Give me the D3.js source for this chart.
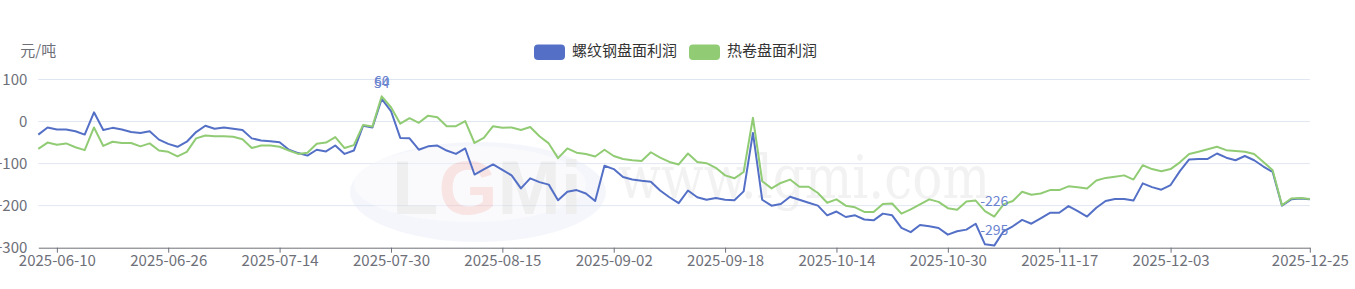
<!DOCTYPE html>
<html>
<head>
<meta charset="utf-8">
<script src="https://cdn.jsdelivr.net/npm/d3@7"></script>
<style>
  html, body { margin: 0; padding: 0; background: #fff; }
  svg text { font-family: "Noto Sans CJK SC", "Noto Sans", sans-serif; }
</style>
</head>
<body>
<svg id="chart" width="1355" height="289"></svg>
<script>
// trading days shown on the category axis
const dates = [
  "2025-06-06","2025-06-09","2025-06-10","2025-06-11","2025-06-12","2025-06-13","2025-06-16","2025-06-17","2025-06-18","2025-06-19",
  "2025-06-20","2025-06-23","2025-06-24","2025-06-25","2025-06-26","2025-06-27","2025-06-30","2025-07-01","2025-07-02","2025-07-03",
  "2025-07-04","2025-07-07","2025-07-08","2025-07-09","2025-07-10","2025-07-11","2025-07-14","2025-07-15","2025-07-16","2025-07-17",
  "2025-07-18","2025-07-21","2025-07-22","2025-07-23","2025-07-24","2025-07-25","2025-07-28","2025-07-29","2025-07-30","2025-07-31",
  "2025-08-01","2025-08-04","2025-08-05","2025-08-06","2025-08-07","2025-08-08","2025-08-11","2025-08-12","2025-08-13","2025-08-14",
  "2025-08-15","2025-08-18","2025-08-19","2025-08-20","2025-08-21","2025-08-22","2025-08-25","2025-08-26","2025-08-27","2025-08-28",
  "2025-08-29","2025-09-01","2025-09-02","2025-09-03","2025-09-04","2025-09-05","2025-09-08","2025-09-09","2025-09-10","2025-09-11",
  "2025-09-12","2025-09-15","2025-09-16","2025-09-17","2025-09-18","2025-09-19","2025-09-22","2025-09-23","2025-09-24","2025-09-25",
  "2025-09-26","2025-09-29","2025-09-30","2025-10-09","2025-10-10","2025-10-13","2025-10-14","2025-10-15","2025-10-16","2025-10-17",
  "2025-10-20","2025-10-21","2025-10-22","2025-10-23","2025-10-24","2025-10-27","2025-10-28","2025-10-29","2025-10-30","2025-10-31",
  "2025-11-03","2025-11-04","2025-11-05","2025-11-06","2025-11-07","2025-11-10","2025-11-11","2025-11-12","2025-11-13","2025-11-14",
  "2025-11-17","2025-11-18","2025-11-19","2025-11-20","2025-11-21","2025-11-24","2025-11-25","2025-11-26","2025-11-27","2025-11-28",
  "2025-12-01","2025-12-02","2025-12-03","2025-12-04","2025-12-05","2025-12-08","2025-12-09","2025-12-10","2025-12-11","2025-12-12",
  "2025-12-15","2025-12-16","2025-12-17","2025-12-18","2025-12-19","2025-12-22","2025-12-23","2025-12-25"
];

// 螺纹钢盘面利润
const rebar = [
  -31,-14,-19,-19,-23,-31,22,-20,-15,-19,
  -25,-27,-23,-43,-53,-60,-48,-25,-10,-17,
  -14,-17,-20,-40,-45,-47,-49,-67,-75,-81,
  -67,-71,-57,-77,-69,-10,-14,54,25,-39,
  -40,-67,-59,-57,-69,-77,-64,-126,-114,-102,
  -115,-128,-159,-135,-144,-150,-187,-167,-163,-171,
  -189,-105,-113,-132,-138,-141,-143,-164,-180,-194,
  -164,-180,-186,-182,-186,-187,-166,-27,-186,-200,
  -196,-179,-186,-193,-200,-223,-214,-227,-223,-233,
  -235,-219,-223,-253,-263,-246,-249,-253,-269,-261,
  -257,-243,-292,-295,-261,-249,-234,-243,-230,-217,
  -217,-201,-213,-226,-205,-189,-184,-184,-188,-147,
  -156,-162,-151,-118,-90,-89,-89,-76,-86,-92,
  -82,-92,-107,-120,-200,-185,-183,-185
];

// 热卷盘面利润
const hotCoil = [
  -65,-50,-55,-52,-61,-68,-14,-58,-48,-51,
  -51,-59,-52,-69,-72,-83,-72,-40,-33,-35,
  -35,-36,-42,-63,-57,-57,-60,-69,-77,-74,
  -53,-50,-37,-63,-56,-8,-12,60,34,-5,
  8,-3,14,10,-11,-11,1,-51,-39,-11,
  -15,-14,-20,-13,-35,-52,-87,-64,-74,-77,
  -83,-67,-82,-89,-92,-94,-73,-86,-96,-102,
  -76,-96,-99,-110,-128,-135,-120,9,-142,-159,
  -146,-138,-155,-155,-170,-193,-185,-200,-204,-215,
  -215,-196,-195,-219,-209,-197,-185,-191,-206,-210,
  -190,-188,-213,-226,-197,-189,-167,-174,-171,-163,
  -163,-154,-156,-159,-140,-134,-131,-128,-138,-104,
  -113,-118,-113,-97,-77,-72,-66,-60,-68,-70,
  -72,-77,-96,-116,-199,-183,-182,-184
];

const tickLabels = ["2025-06-10","2025-06-26","2025-07-14","2025-07-30","2025-08-15","2025-09-02",
  "2025-09-18","2025-10-14","2025-10-30","2025-11-17","2025-12-03","2025-12-25"];
const yTicks = [-300, -200, -100, 0, 100];

const series = [
  {name: "螺纹钢盘面利润", values: rebar, color: "#5470c6"},
  {name: "热卷盘面利润", values: hotCoil, color: "#91cc75"}
];

const plotLeft = 38.3, plotRight = 1309.8, plotTop = 79.5, plotBottom = 247.7;
const axisColor = "#6e7079";

const svg = d3.select("#chart");

const x = d3.scalePoint().domain(dates).range([plotLeft, plotRight]);
const y = d3.scaleLinear().domain([-300, 100]).range([plotBottom, plotTop]);

// grid lines
svg.append("g")
  .selectAll("line")
  .data(yTicks.filter(d => d !== -300))
  .join("line")
  .attr("x1", plotLeft).attr("x2", plotRight)
  .attr("y1", d => y(d)).attr("y2", d => y(d))
  .attr("stroke", "#e0e6f1");

// faint watermark
const wm = svg.append("g").attr("opacity", 0.45);
wm.append("ellipse").attr("cx", 478).attr("cy", 192).attr("rx", 128).attr("ry", 50)
  .attr("fill", "#dfe6f4").attr("opacity", 0.7);
wm.append("ellipse").attr("cx", 470).attr("cy", 184).attr("rx", 116).attr("ry", 38)
  .attr("fill", "#f4f6fb");
const logo = wm.append("text").attr("x", 392).attr("y", 214)
  .style("font-family", "Liberation Sans").style("font-weight", "bold").style("font-size", "76px");
logo.append("tspan").attr("fill", "#dcdcdc").text("L");
logo.append("tspan").attr("fill", "#f2c4c4").text("G");
logo.append("tspan").attr("fill", "#dcdcdc").text("Mi");
wm.append("text").attr("x", 618).attr("y", 198)
  .attr("textLength", 372).attr("lengthAdjust", "spacingAndGlyphs")
  .style("font-family", "DejaVu Serif").style("font-size", "60px")
  .attr("fill", "#e4e4e4").text("www.lgmi.com");

// x axis
const gx = svg.append("g")
  .attr("transform", `translate(0,${plotBottom})`)
  .call(d3.axisBottom(x).tickValues(tickLabels).tickSize(5).tickPadding(3).tickSizeOuter(0));
gx.select(".domain").attr("stroke", axisColor);
gx.selectAll(".tick line").attr("stroke", axisColor);
gx.selectAll(".tick text").attr("fill", axisColor).style("font-size", "15px");

// y axis
const gy = svg.append("g")
  .attr("transform", `translate(${plotLeft},0)`)
  .call(d3.axisLeft(y).tickValues(yTicks).tickSize(0).tickPadding(11));
gy.select(".domain").remove();
gy.selectAll(".tick text").attr("fill", axisColor).style("font-size", "15px");

svg.append("text")
  .attr("x", plotLeft).attr("y", 52)
  .attr("text-anchor", "middle").attr("dominant-baseline", "middle")
  .attr("fill", axisColor).style("font-size", "15px")
  .text("元/吨");

// lines
const line = d3.line()
  .x((d, i) => x(dates[i]))
  .y(d => y(d));

svg.append("g")
  .selectAll("path")
  .data(series)
  .join("path")
  .attr("d", d => line(d.values))
  .attr("fill", "none")
  .attr("stroke", d => d.color)
  .attr("stroke-width", 2)
  .attr("stroke-linejoin", "round");

// max / min labels
const marks = [];
series.forEach(s => {
  const iMax = d3.maxIndex(s.values), iMin = d3.minIndex(s.values);
  marks.push({i: iMax, v: s.values[iMax]});
  marks.push({i: iMin, v: s.values[iMin]});
});
svg.append("g")
  .selectAll("text")
  .data(marks)
  .join("text")
  .attr("x", d => x(dates[d.i]))
  .attr("y", d => y(d.v) - 14.5)
  .attr("text-anchor", "middle")
  .attr("dominant-baseline", "middle")
  .attr("fill", "#6a84cf")
  .style("font-size", "14px")
  .text(d => d.v);

// legend
const legend = svg.append("g");
const legendX = [534, 689];
series.forEach((s, k) => {
  legend.append("rect")
    .attr("x", legendX[k]).attr("y", 44.5).attr("width", 31).attr("height", 15.5)
    .attr("rx", 4).attr("fill", s.color);
  legend.append("text")
    .attr("x", legendX[k] + 38).attr("y", 52)
    .attr("dominant-baseline", "middle")
    .attr("fill", "#333").style("font-size", "15px")
    .text(s.name);
});
</script>
</body>
</html>
